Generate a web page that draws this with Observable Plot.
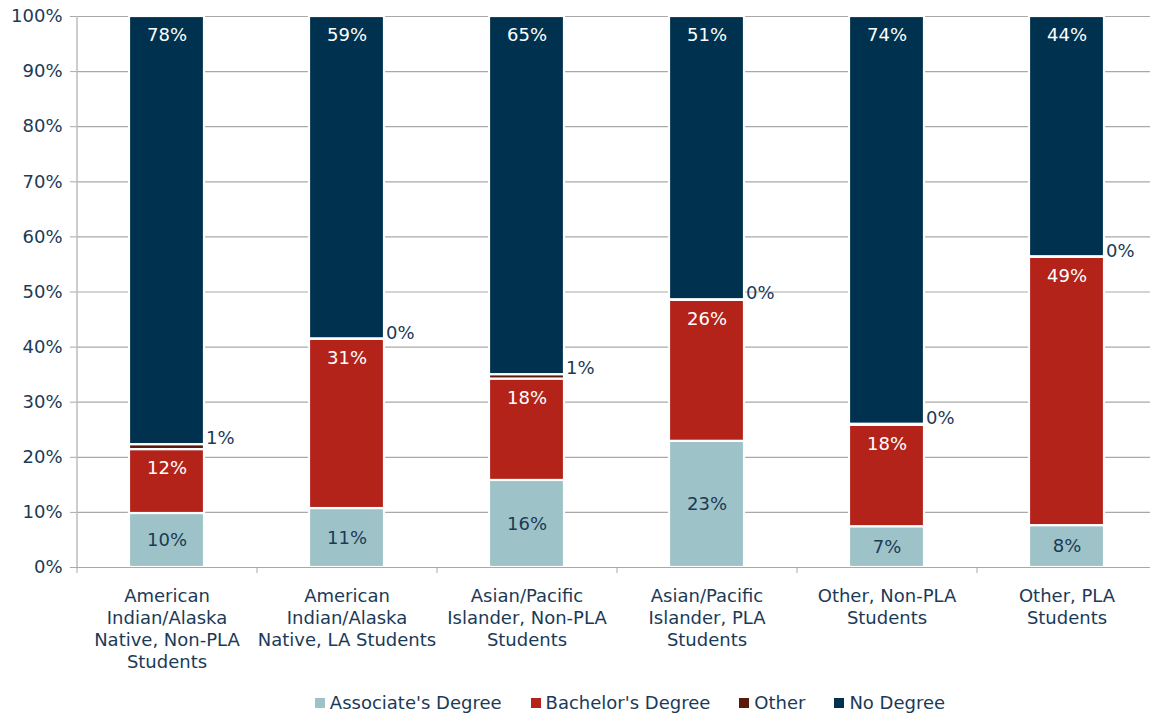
<!DOCTYPE html>
<html>
<head>
<meta charset="utf-8">
<script src="https://cdn.jsdelivr.net/npm/d3@7"></script>
<script src="https://cdn.jsdelivr.net/npm/@observablehq/plot@0.6"></script>
<style>
  html, body { margin: 0; padding: 0; background: #fff; overflow: hidden; }
  #chart svg { max-width: none !important; }
  #legend { display: flex; justify-content: center; gap: 29px; font-family: "DejaVu Sans", sans-serif; font-size: 18px; color: #1b3a57; margin-top: 6px; padding-left: 110px; width: 1150px; box-sizing: border-box; }
  #legend span.item { display: inline-flex; align-items: center; }
  #legend span.sw { width: 10px; height: 10px; display: inline-block; margin-right: 5px; }
</style>
</head>
<body>
<div id="chart"></div>
<div id="legend"></div>
<script>
const categories = [
  "American\nIndian/Alaska\nNative, Non-PLA\nStudents",
  "American\nIndian/Alaska\nNative, LA Students",
  "Asian/Pacific\nIslander, Non-PLA\nStudents",
  "Asian/Pacific\nIslander, PLA\nStudents",
  "Other, Non-PLA\nStudents",
  "Other, PLA\nStudents"
];
const seriesNames = ["Associate's Degree", "Bachelor's Degree", "Other", "No Degree"];
const seriesColors = ["#9dc3c8", "#b3231a", "#5a1a0c", "#003250"];
const associate = [9.8, 10.7, 15.8, 22.9, 7.4, 7.6];
const bachelor  = [11.6, 30.7, 18.4, 25.6, 18.4, 48.7];
const other     = [0.9, 0.1, 0.8, 0.1, 0.2, 0.1];
const noDegree  = [77.7, 58.5, 65.0, 51.4, 74.0, 43.6];
const yTicks = [0, 10, 20, 30, 40, 50, 60, 70, 80, 90, 100];

const seriesValues = [associate, bachelor, other, noDegree];
const rows = [];
categories.forEach((c, i) => {
  seriesNames.forEach((s, j) => {
    rows.push({cat: c, series: s, value: seriesValues[j][i]});
  });
});
const lbl = d => Math.round(d.value) + "%";
const textColor = "#1b3a57";
const fs = 18;

const chart = Plot.plot({
  width: 1156,
  height: 686,
  marginLeft: 76,
  marginRight: 0,
  marginTop: 16,
  marginBottom: 119,
  style: {fontFamily: "DejaVu Sans, sans-serif", fontSize: fs + "px", color: textColor, background: "#fff"},
  x: {domain: categories, paddingInner: 0.585, paddingOuter: 0.2925, label: null},
  y: {domain: [0, 100], label: null},
  color: {domain: seriesNames, range: seriesColors},
  marks: [
    Plot.ruleY(yTicks, {y: d => d, stroke: "#a9a9a9", strokeWidth: 1.2}),
    Plot.axisY(yTicks, {tickFormat: d => d + "%", tickSize: 6, tickPadding: 8, stroke: "#a9a9a9", fill: textColor, label: null, fontSize: fs}),
    Plot.ruleX([0], {x: () => categories[0], dx: -90, y1: 0, y2: 100, stroke: "#b8bcc2", strokeWidth: 1.5}),
    Plot.ruleX(categories, {x: d => d, dx: 90, y1: 0, y2: 0, insetBottom: -6, stroke: "#a9a9a9"}),
    Plot.ruleX(categories.slice(0, 1), {x: d => d, dx: -90, y1: 0, y2: 0, insetBottom: -6, stroke: "#a9a9a9"}),
    Plot.barY(rows, Plot.stackY({x: "cat", y: "value", fill: "series", stroke: "white", strokeWidth: 2.2, style: "filter: drop-shadow(1px 1px 1.5px rgba(0,0,0,0.25))"})),
    Plot.ruleY([0], {stroke: "#a9a9a9", strokeWidth: 1.2}),
    Plot.axisX({tickSize: 0, tickPadding: 19, lineHeight: 1.22, fill: textColor, fontSize: fs, label: null}),
    Plot.text(rows, Plot.stackY2({x: "cat", y: "value", text: d => (d.series === "Bachelor's Degree" || d.series === "No Degree") ? lbl(d) : "", dy: 19, fill: "white", fontSize: fs})),
    Plot.text(rows, Plot.stackY({x: "cat", y: "value", text: d => d.series === "Associate's Degree" ? lbl(d) : "", fill: textColor, fontSize: fs})),
    Plot.text(rows, Plot.stackY2({x: "cat", y: "value", text: d => d.series === "Other" ? lbl(d) : "", dx: 39, dy: -6, textAnchor: "start", fill: textColor, fontSize: fs}))
  ]
});
document.getElementById("chart").appendChild(chart);

const legend = document.getElementById("legend");
seriesNames.forEach((s, i) => {
  const item = document.createElement("span");
  item.className = "item";
  const sw = document.createElement("span");
  sw.className = "sw";
  sw.style.background = seriesColors[i];
  item.appendChild(sw);
  item.appendChild(document.createTextNode(s));
  legend.appendChild(item);
});
</script>
</body>
</html>
